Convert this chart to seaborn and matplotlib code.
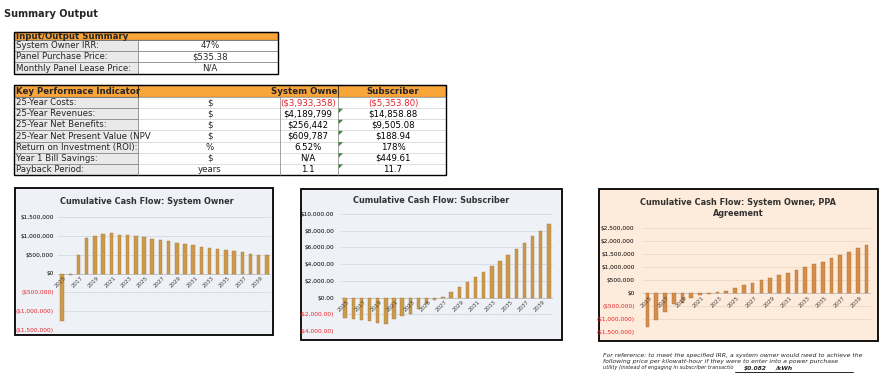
import matplotlib
matplotlib.use("Agg")
import matplotlib.pyplot as plt
from matplotlib.patches import Rectangle, Polygon
import numpy as np
import pandas as pd
import seaborn as sns

W, H = 893, 389

# ---- data -------------------------------------------------------------
years = list(range(2015, 2041))

owner_cf = [-1250000, -30000, 500000, 950000, 990000, 1050000, 1070000, 1030000,
            1010000, 985000, 960000, 920000, 880000, 855000, 810000, 770000,
            745000, 710000, 690000, 660000, 620000, 600000, 560000, 530000,
            500000, 480000]

subscriber_cf = [-2400, -2520, -2680, -2800, -3000, -3120, -2600, -2200, -2000,
                 -1400, -800, -300, 100, 650, 1250, 1850, 2450, 3100, 3750,
                 4400, 5100, 5850, 6500, 7350, 8000, 8850]

ppa_cf = [-1300000, -1020000, -720000, -420000, -380000, -200000, -80000, -30000,
          30000, 90000, 180000, 290000, 380000, 490000, 580000, 680000, 780000,
          880000, 990000, 1100000, 1210000, 1330000, 1460000, 1590000, 1720000,
          1850000]

io_labels = ["System Owner IRR:", "Panel Purchase Price:", "Monthly Panel Lease Price:"]
io_values = ["47%", "$535.38", "N/A"]

kpi_labels = ["25-Year Costs:", "25-Year Revenues:", "25-Year Net Benefits:",
              "25-Year Net Present Value (NPV", "Return on Investment (ROI):",
              "Year 1 Bill Savings:", "Payback Period:"]
kpi_units = ["$", "$", "$", "$", "%", "$", "years"]
kpi_owner = ["($3,933,358)", "$4,189,799", "$256,442", "$609,787", "6.52%", "N/A", "1.1"]
kpi_subscriber = ["($5,353.80)", "$14,858.88", "$9,505.08", "$188.94", "178%", "$449.61", "11.7"]

ppa_price = "$0.082"

ORANGE = "#F9A53A"
GREY_CELL = "#E9E9E9"
BLUE_BG = "#EEF2F7"
PEACH_BG = "#FDEBDB"

sns.set_style("white")
plt.rcParams["font.family"] = ["DejaVu Sans"]


def fig_rect(x0, y0, x1, y1):
    return [x0 / W, 1 - y1 / H, (x1 - x0) / W, (y1 - y0) / H]


def money(v, dec):
    s = f"${abs(v):,.{dec}f}"
    return f"({s})" if v < 0 else s


fig = plt.figure(figsize=(W / 100, H / 100), dpi=100)
fig.patch.set_facecolor("white")

# overlay axes in pixel coordinates for the sheet parts
bg = fig.add_axes([0, 0, 1, 1], zorder=0)
bg.set_xlim(0, W)
bg.set_ylim(H, 0)
bg.axis("off")

bg.text(4, 14, "Summary Output", fontsize=7, fontweight="bold", va="center")

TXT = 6.2

# ---- input/output table -----------------------------------------------
t1_x0, t1_xm, t1_x1 = 14, 138, 278
t1_top, t1_head = 32, 39.5
rows1 = [39.5, 51, 62, 74]
bg.add_patch(Rectangle((t1_x0, t1_top), t1_x1 - t1_x0, t1_head - t1_top,
                       facecolor=ORANGE, edgecolor="black", lw=0.8))
bg.text(t1_x0 + 2, (t1_top + t1_head) / 2 + 0.5, "Input/Output Summary",
        fontsize=TXT, fontweight="bold", va="center")
for i, (lab, val) in enumerate(zip(io_labels, io_values)):
    y0, y1 = rows1[i], rows1[i + 1]
    bg.add_patch(Rectangle((t1_x0, y0), t1_xm - t1_x0, y1 - y0,
                           facecolor=GREY_CELL, edgecolor="#7F7F7F", lw=0.5))
    bg.add_patch(Rectangle((t1_xm, y0), t1_x1 - t1_xm, y1 - y0,
                           facecolor="white", edgecolor="#7F7F7F", lw=0.5))
    bg.text(t1_x0 + 2, (y0 + y1) / 2, lab, fontsize=TXT, va="center")
    bg.text(210, (y0 + y1) / 2, val, fontsize=TXT, va="center", ha="center")
bg.add_patch(Rectangle((t1_x0, t1_top), t1_x1 - t1_x0, rows1[-1] - t1_top,
                       facecolor="none", edgecolor="black", lw=1.0))

# ---- KPI table --------------------------------------------------------
cols = [14, 138, 280, 338, 446]
t2_top, t2_head = 85, 97
row_h = (175 - t2_head) / len(kpi_labels)
bg.add_patch(Rectangle((cols[0], t2_top), cols[-1] - cols[0], t2_head - t2_top,
                       facecolor=ORANGE, edgecolor="black", lw=0.8))
bg.plot([cols[1], cols[1]], [t2_top, t2_head], color="black", lw=0.5)
bg.plot([cols[3], cols[3]], [t2_top, t2_head], color="black", lw=0.5)
hy = (t2_top + t2_head) / 2 + 0.5
bg.text(cols[0] + 2, hy, "Key Performace Indicator", fontsize=TXT,
        fontweight="bold", va="center")
bg.text(cols[3] - 1, hy, "System Owne", fontsize=TXT, fontweight="bold",
        va="center", ha="right")
bg.text(393, hy, "Subscriber", fontsize=TXT, fontweight="bold",
        va="center", ha="center")
for i in range(len(kpi_labels)):
    y0 = t2_head + i * row_h
    y1 = y0 + row_h
    yc = (y0 + y1) / 2
    bg.add_patch(Rectangle((cols[0], y0), cols[1] - cols[0], row_h,
                           facecolor=GREY_CELL, edgecolor="#7F7F7F", lw=0.5))
    bg.add_patch(Rectangle((cols[1], y0), cols[-1] - cols[1], row_h,
                           facecolor="white", edgecolor="#D0D0D0", lw=0.4))
    t = bg.text(cols[0] + 2, yc, kpi_labels[i], fontsize=TXT, va="center")
    t.set_clip_path(Rectangle((cols[0], y0), cols[1] - cols[0], row_h,
                              transform=bg.transData))
    bg.text(210, yc, kpi_units[i], fontsize=TXT, va="center", ha="center")
    red = kpi_owner[i].startswith("(")
    bg.text(308, yc, kpi_owner[i], fontsize=TXT, va="center", ha="center",
            color="#E8232A" if red else "black")
    red = kpi_subscriber[i].startswith("(")
    bg.text(393, yc, kpi_subscriber[i], fontsize=TXT, va="center", ha="center",
            color="#E8232A" if red else "black")
    if i > 0:
        bg.add_patch(Polygon([(cols[3] + 0.5, y0 + 0.5), (cols[3] + 5, y0 + 0.5),
                              (cols[3] + 0.5, y0 + 5)], closed=True,
                             facecolor="#2F8A2F", edgecolor="none"))
for cx in cols[1:4]:
    bg.plot([cx, cx], [t2_head, 175], color="#7F7F7F", lw=0.5)
bg.add_patch(Rectangle((cols[0], t2_top), cols[-1] - cols[0], 175 - t2_top,
                       facecolor="none", edgecolor="black", lw=1.0))

# ---- charts -----------------------------------------------------------
charts = [
    dict(frame=(15, 188, 273, 335), axes=(58, 217, 271, 330), face=BLUE_BG,
         grid="#D3DAE4", bar="#CC9A4C", edge="#A8793A", values=owner_cf,
         ylim=(-1500000, 1500000), step=500000, dec=0, pad=3,
         title=["Cumulative Cash Flow: System Owner"], title_xy=(147, 201)),
    dict(frame=(301, 189, 562, 340), axes=(341, 214, 553, 331), face=BLUE_BG,
         grid="#D3DAE4", bar="#CC9A4C", edge="#A8793A", values=subscriber_cf,
         ylim=(-4000, 10000), step=2000, dec=2, pad=5,
         title=["Cumulative Cash Flow: Subscriber"], title_xy=(431, 200)),
    dict(frame=(599, 189, 878, 341), axes=(643, 228, 871, 332), face=PEACH_BG,
         grid="#F0D6C2", bar="#D48E4C", edge="#B06F35", values=ppa_cf,
         ylim=(-1500000, 2500000), step=500000, dec=0, pad=6,
         title=["Cumulative Cash Flow: System Owner, PPA", "Agreement"],
         title_xy=(738, 202)),
]

for c in charts:
    fx0, fy0, fx1, fy1 = c["frame"]
    bg.add_patch(Rectangle((fx0, fy0), fx1 - fx0, fy1 - fy0,
                           facecolor=c["face"], edgecolor="black", lw=1.3))
    for k, line in enumerate(c["title"]):
        bg.text(c["title_xy"][0], c["title_xy"][1] + k * 11.5, line,
                fontsize=5.9, fontweight="bold", ha="center", va="center",
                color="#333333")

    ax = fig.add_axes(fig_rect(*c["axes"]), zorder=2)
    ax.set_facecolor("none")
    df = pd.DataFrame({"year": [str(y) for y in years], "value": c["values"]})
    sns.barplot(data=df, x="year", y="value", color=c["bar"], width=0.42,
                saturation=1, edgecolor=c["edge"], linewidth=0.3, ax=ax)
    ax.set_xlim(-0.5, len(years) - 0.5)
    ax.set_ylim(*c["ylim"])
    ticks = np.arange(c["ylim"][0], c["ylim"][1] + 1, c["step"])
    ax.set_yticks(ticks)
    ax.set_yticklabels([money(t, c["dec"]) for t in ticks])
    for lab, t in zip(ax.get_yticklabels(), ticks):
        lab.set_color("#E8232A" if t < 0 else "black")
    ax.tick_params(axis="y", labelsize=4.2, length=0, pad=c["pad"])
    ax.set_xticks([])
    ax.set_xlabel("")
    ax.set_ylabel("")
    for s in ax.spines.values():
        s.set_visible(False)
    for t in ticks:
        ax.axhline(t, color=c["grid"], lw=0.6, zorder=0)
    ax.axhline(0, color="#BFBFBF", lw=0.6, zorder=0)
    for i, y in enumerate(years):
        if i % 2 == 0:
            ax.annotate(str(y), xy=(i, 0), xytext=(1.5, -1.5),
                        textcoords="offset points", rotation=45,
                        rotation_mode="anchor", ha="right", va="top",
                        fontsize=4, color="#404040")

# ---- footnote ---------------------------------------------------------
note = ["For reference: to meet the specified IRR, a system owner would need to achieve the",
        "following price per kilowatt-hour if they were to enter into a power purchase",
        "utility (instead of engaging in subscriber transactio"]
note_texts = []
for k, line in enumerate(note):
    size = 4.4 if k < 2 else 3.7
    note_texts.append(bg.text(603, 355 + k * 6.4, line, fontsize=size,
                              style="italic", va="center"))

fig.canvas.draw()
inv = bg.transData.inverted()
ext = note_texts[-1].get_window_extent()
line_end = inv.transform((ext.x1, ext.y0))[0]
bg.plot([line_end + 1, 853], [371.5, 371.5], color="black", lw=0.6)
bg.text(line_end + 10, 368, ppa_price, fontsize=4.3, style="italic",
        fontweight="bold", va="center")
bg.text(line_end + 42, 368, "/kWh", fontsize=4.3, style="italic",
        fontweight="bold", va="center")

fig.savefig("out.png", dpi=100)
